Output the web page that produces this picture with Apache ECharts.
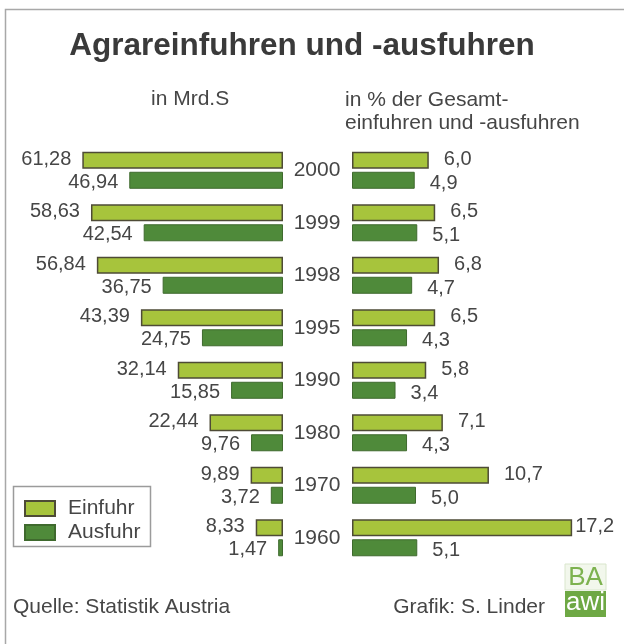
<!DOCTYPE html>
<html>
<head>
<meta charset="utf-8">
<title>Agrareinfuhren und -ausfuhren</title>
<script src="https://cdn.jsdelivr.net/npm/echarts@6/dist/echarts.min.js"></script>
<style>
  html, body { margin: 0; padding: 0; background: #fff; }
  #chart { width: 624px; height: 644px; }
</style>
</head>
<body>
<div id="chart"></div>
<script>
const years = ['2000', '1999', '1998', '1995', '1990', '1980', '1970', '1960']
// in Mrd. S
const einfuhrMrd = [61.28, 58.63, 56.84, 43.39, 32.14, 22.44, 9.89, 8.33]
const ausfuhrMrd = [46.94, 42.54, 36.75, 24.75, 15.85, 9.76, 3.72, 1.47]
// in % der Gesamteinfuhren und -ausfuhren
const einfuhrPct = [6.0, 6.5, 6.8, 6.5, 5.8, 7.1, 10.7, 17.2]
const ausfuhrPct = [4.9, 5.1, 4.7, 4.3, 3.4, 4.3, 5.0, 5.1]

const FONT = '"Liberation Sans", Arial, sans-serif'
const TEXT = '#464646'
const LIGHT = '#a7c43c'
const DARK = '#4f8a3a'

// 61,28 statt 61.28
const fmt = (v, digits) => v.toFixed(digits).replace('.', ',')

const einfuhrStyle = { color: LIGHT, borderColor: '#4e4b36', borderWidth: 1.5 }
const ausfuhrStyle = { color: DARK, borderColor: '#3f6a2e', borderWidth: 1 }

const labelBase = { show: true, fontSize: 20, color: TEXT, fontFamily: FONT }

const chart = echarts.init(document.getElementById('chart'))

const option = {
  backgroundColor: '#fff',
  animation: false,
  grid: [
    { left: 21, right: 341, top: 144, height: 420 },
    { left: 352, right: 16, top: 144, height: 420 }
  ],
  xAxis: [
    { gridIndex: 0, type: 'value', min: 0, max: 80, inverse: true, show: false },
    { gridIndex: 1, type: 'value', min: 0, max: 20, show: false }
  ],
  yAxis: [
    { gridIndex: 0, type: 'category', data: years, inverse: true, show: false },
    {
      gridIndex: 1,
      type: 'category',
      data: years,
      inverse: true,
      axisLine: { show: false },
      axisTick: { show: false },
      axisLabel: { align: 'center', margin: 35, fontSize: 21, color: TEXT, fontFamily: FONT }
    }
  ],
  legend: {
    data: ['Einfuhr', 'Ausfuhr'],
    orient: 'vertical',
    left: 24,
    top: 498,
    padding: 0,
    itemGap: 3,
    itemWidth: 30,
    itemHeight: 15,
    icon: 'rect',
    textStyle: { fontSize: 21, color: TEXT, fontFamily: FONT, padding: [0, 0, 0, 8] }
  },
  series: [
    {
      name: 'Einfuhr',
      type: 'bar',
      xAxisIndex: 0,
      yAxisIndex: 0,
      barWidth: 17,
      barGap: '18%',
      data: einfuhrMrd,
      itemStyle: einfuhrStyle,
      label: { ...labelBase, position: 'left', distance: 11, offset: [0, -1], formatter: p => fmt(p.value, 2) }
    },
    {
      name: 'Ausfuhr',
      type: 'bar',
      xAxisIndex: 0,
      yAxisIndex: 0,
      barWidth: 17,
      barGap: '18%',
      data: ausfuhrMrd,
      itemStyle: ausfuhrStyle,
      label: { ...labelBase, position: 'left', distance: 11, offset: [0, 2], formatter: p => fmt(p.value, 2) }
    },
    {
      name: 'Einfuhr',
      type: 'bar',
      xAxisIndex: 1,
      yAxisIndex: 1,
      barWidth: 17,
      barGap: '18%',
      // langer Balken: Wert dicht daneben
      data: einfuhrPct.map(v => ({ value: v, label: { distance: v > 15 ? 3 : 15 } })),
      itemStyle: einfuhrStyle,
      label: { ...labelBase, position: 'right', offset: [0, -1], formatter: p => fmt(p.value, 1) }
    },
    {
      name: 'Ausfuhr',
      type: 'bar',
      xAxisIndex: 1,
      yAxisIndex: 1,
      barWidth: 17,
      barGap: '18%',
      data: ausfuhrPct,
      itemStyle: ausfuhrStyle,
      label: { ...labelBase, position: 'right', distance: 15, offset: [0, 3], formatter: p => fmt(p.value, 1) }
    }
  ],
  graphic: [
    // Rahmen
    { type: 'polyline', shape: { points: [[5.5, 644], [5.5, 9.5], [624, 9.5]] }, style: { stroke: '#a8a8a8', lineWidth: 1.5, fill: null } },
    {
      type: 'text',
      style: { text: 'Agrareinfuhren und -ausfuhren', x: 302, y: 46, align: 'center', verticalAlign: 'middle',
        fontSize: 31.5, fontWeight: 'bold', fontFamily: FONT, fill: '#3a3a3a' }
    },
    { type: 'text', style: { text: 'in Mrd.S', x: 151, y: 99, verticalAlign: 'middle', fontSize: 21, fontFamily: FONT, fill: TEXT } },
    { type: 'text', style: { text: 'in % der Gesamt-', x: 345, y: 100, verticalAlign: 'middle', fontSize: 21, fontFamily: FONT, fill: TEXT } },
    { type: 'text', style: { text: 'einfuhren und -ausfuhren', x: 345, y: 123, verticalAlign: 'middle', fontSize: 21, fontFamily: FONT, fill: TEXT } },
    // Legendenrahmen
    { type: 'rect', shape: { x: 13.5, y: 486.5, width: 137, height: 60 }, style: { stroke: '#9b9b9b', lineWidth: 1.5, fill: null } },
    { type: 'text', style: { text: 'Quelle: Statistik Austria', x: 13, y: 607, verticalAlign: 'middle', fontSize: 21, fontFamily: FONT, fill: TEXT } },
    { type: 'text', style: { text: 'Grafik: S. Linder', x: 545, y: 607, align: 'right', verticalAlign: 'middle', fontSize: 21, fontFamily: FONT, fill: TEXT } },
    // Logo
    { type: 'rect', shape: { x: 565, y: 564, width: 41, height: 26 }, style: { fill: '#f2f7ec', stroke: '#d9e6cc', lineWidth: 1 } },
    { type: 'text', style: { text: 'BA', x: 585.5, y: 578, align: 'center', verticalAlign: 'middle', fontSize: 26, fontFamily: FONT, fill: '#7db24f' } },
    { type: 'rect', shape: { x: 565, y: 591, width: 41, height: 26 }, style: { fill: '#6ea844' } },
    { type: 'text', style: { text: 'awi', x: 585.5, y: 603, align: 'center', verticalAlign: 'middle', fontSize: 26, fontFamily: FONT, fill: '#fff' } }
  ]
}

chart.setOption(option)
</script>
</body>
</html>
